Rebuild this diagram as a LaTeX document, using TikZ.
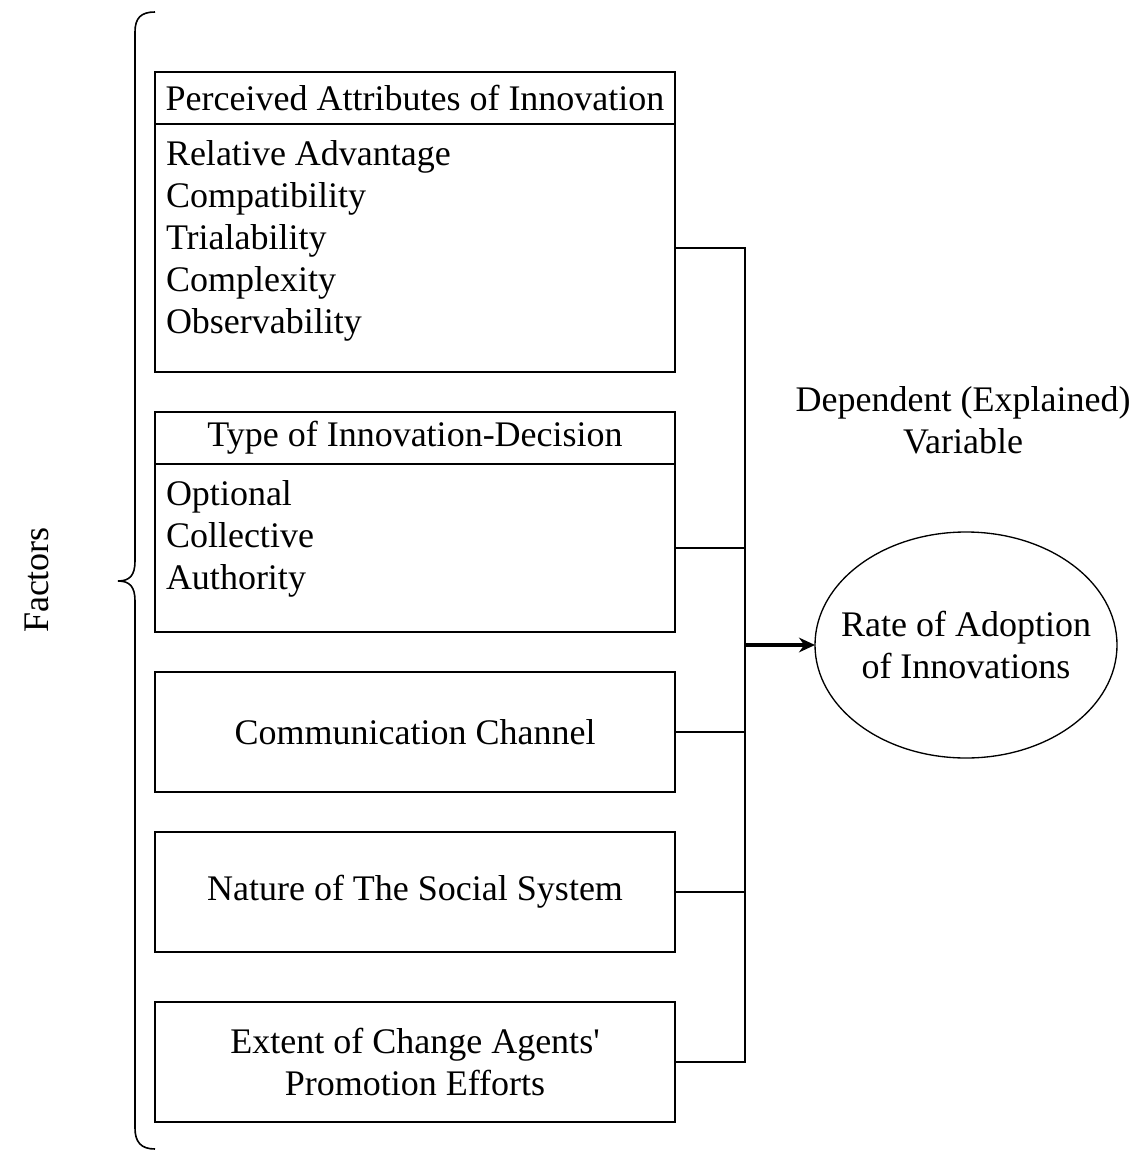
\documentclass[tikz,border=0pt]{standalone}
\usepackage{fontspec}
\setmainfont{Liberation Serif}
\usetikzlibrary{arrows, arrows.meta}
\usetikzlibrary{shapes.geometric, positioning, calc}

\begin{document}
\begin{tikzpicture}[>={Stealth[length=12pt, width=11pt]}, x=0.75pt, y=-0.75pt,
    every node/.style={font=\fontsize{27}{31.5}\selectfont, inner sep=0pt, outer sep=0pt},
    factor/.style={draw, line width=1.2pt, minimum width=390pt},
    items/.style={align=left, anchor=west},
    link/.style={line width=1pt}]
  \useasboundingbox (0,0) rectangle (1142,1151);

  \node[factor, minimum height=39pt] (h1) at (415,98) {Perceived Attributes of Innovation};
  \node[factor, minimum height=186pt] (b1) at (415,248) {};
  \node[items] (l1) at (166,241) {Relative Advantage\\Compatibility\\Trialability\\Complexity\\Observability};

  \node[factor, minimum height=39pt] (h2) at (415,438) {Type of Innovation-Decision};
  \node[factor, minimum height=126pt] (b2) at (415,548) {};
  \node[items] (l2) at (166,539) {Optional\\Collective\\Authority};

  \node[factor, minimum height=90pt] (c3) at (415,732) {Communication Channel};
  \node[factor, minimum height=90pt] (c4) at (415,892) {Nature of The Social System};
  \node[factor, minimum height=90pt, align=center] (c5) at (415,1062) {Extent of Change Agents\textquotesingle\\Promotion Efforts};

  \node[draw, ellipse, line width=1pt, inner xsep=-14.5pt, minimum width=226.5pt, minimum height=169.5pt, align=center] (rate) at (966,645) {Rate of Adoption\\of Innovations};
  \node[align=center] (dep) at (963,420) {Dependent (Explained)\\Variable};

  \coordinate (jn) at (745,645);
  \foreach \b in {b1,b2,c3,c4,c5}
    \draw[link] (\b.east) -| (jn);
  \draw[line width=3pt, ->] (jn) -- (rate.west);

  \draw[line width=1.2pt] (155,12) .. controls (141,12) and (135,18) .. (135,32) -- (135,561)
    .. controls (135,575) and (130,581) .. (118,581) .. controls (130,581) and (135,587) .. (135,601)
    -- (135,1128) .. controls (135,1142) and (141,1149) .. (155,1149);
  \node[rotate=90] (factors) at (37,580) {Factors};
\end{tikzpicture}
\end{document}
